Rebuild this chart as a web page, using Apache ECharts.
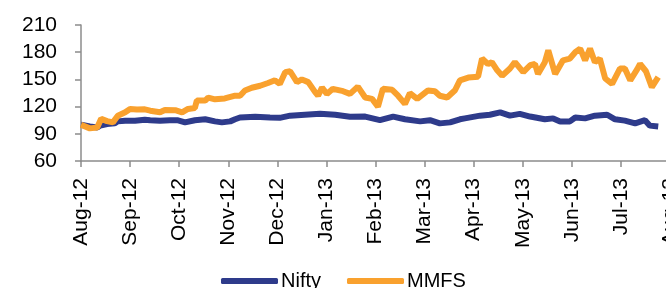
<!DOCTYPE html>
<html>
<head>
<meta charset="utf-8">
<script src="https://cdn.jsdelivr.net/npm/echarts@6/dist/echarts.min.js"></script>
<style>
  html, body { margin: 0; padding: 0; background: #fff; }
  #chart { width: 666px; height: 288px; }
</style>
</head>
<body>
<div id="chart"></div>
<script>
// month labels, one per tick (0 = Aug-12)
const monthLabels = ['Aug-12', 'Sep-12', 'Oct-12', 'Nov-12', 'Dec-12', 'Jan-13', 'Feb-13',
  'Mar-13', 'Apr-13', 'May-13', 'Jun-13', 'Jul-13', 'Aug-13']

// position in months since Aug-12, and indexed value
const niftyT = [0, 0.18, 0.33, 0.39, 0.53, 0.69, 0.75, 0.90, 1.10, 1.30, 1.41, 1.61, 1.81, 1.96,
  2.12, 2.32, 2.53, 2.73, 2.87, 3.04, 3.14, 3.24, 3.55, 3.85, 4.05, 4.26, 4.56, 4.87, 5.18,
  5.48, 5.79, 6.09, 6.36, 6.60, 6.91, 7.11, 7.31, 7.52, 7.72, 7.82, 8.13, 8.33, 8.54, 8.74,
  8.94, 9.15, 9.45, 9.62, 9.76, 9.96, 10.07, 10.27, 10.47, 10.72, 10.88, 11.08, 11.29, 11.49,
  11.59, 11.76]
const niftyV = [100, 98, 97, 99, 100.8, 101.5, 103.7, 104.5, 104.5, 105.6, 105, 104.5, 105, 105,
  102.6, 105, 106, 103.7, 102.6, 103.7, 106, 108, 108.9, 108, 107.6, 110, 111, 112, 111,
  108.9, 109, 105, 109, 106, 103.7, 105, 101.5, 102.6, 106, 107, 110, 111, 113.7, 110,
  112, 109, 106, 107, 103.7, 103.7, 108, 107, 110, 111, 106, 104.5, 101.5, 105,
  99, 98]

const mmfsT = [0, 0.18, 0.33, 0.41, 0.53, 0.65, 0.75, 0.90, 1.00, 1.14, 1.30, 1.41, 1.61, 1.71,
  1.92, 2.06, 2.18, 2.32, 2.36, 2.53, 2.59, 2.73, 2.93, 3.14, 3.24, 3.34, 3.48, 3.65, 3.81,
  3.95, 4.05, 4.16, 4.26, 4.40, 4.50, 4.63, 4.77, 4.83, 4.91, 5.01, 5.13, 5.34, 5.48, 5.64,
  5.79, 5.93, 6.05, 6.15, 6.34, 6.46, 6.60, 6.70, 6.85, 7.07, 7.21, 7.31, 7.46, 7.62, 7.72,
  7.89, 8.09, 8.17, 8.29, 8.37, 8.48, 8.58, 8.74, 8.84, 9.01, 9.15, 9.25, 9.31, 9.45, 9.52,
  9.66, 9.82, 9.96, 10.07, 10.17, 10.27, 10.37, 10.47, 10.57, 10.68, 10.82, 10.98, 11.08,
  11.19, 11.33, 11.39, 11.51, 11.63, 11.76]
const mmfsV = [100, 96, 97, 106.6, 104, 102.6, 110, 113.7, 117.4, 116.7, 117, 115.5, 113.7, 116.3,
  116, 113.7, 117.4, 118.5, 126.7, 126.7, 130, 128, 129, 132, 132, 137.8, 140.8, 143, 146,
  149, 145, 158, 159, 147, 150, 147, 136, 132, 141, 134, 139.6, 137, 134, 142,
  130, 128.5, 120, 139.6, 138.5, 132, 123, 134.8, 128.5, 137.8, 137, 132, 130, 138, 149,
  152, 153, 173, 167, 169, 160, 154, 162, 169, 158, 165.6, 167, 156, 169, 182,
  156, 171, 173, 180, 184, 171, 184, 169, 173, 151, 145, 162, 162,
  149, 161, 167, 159, 141.5, 152.6]

const zip = (t, v) => t.map((x, i) => [x, v[i]])

const fontFamily = 'Liberation Sans, Arial, sans-serif'
const axisGray = '#8c8c8c'

let myChart = echarts.init(document.getElementById('chart'))

myChart.setOption({
  animation: false,
  textStyle: {fontFamily},
  grid: {left: 81, top: 25, right: -4, bottom: 127, containLabel: false, outerBoundsMode: 'none'},
  legend: {
    bottom: -8,
    left: 216,
    itemGap: 26,
    itemWidth: 57,
    itemHeight: 6,
    icon: 'roundRect',
    textStyle: {fontSize: 20, color: '#000', fontFamily, padding: [0, 0, 0, -2]},
    data: ['Nifty', 'MMFS']
  },
  xAxis: {
    type: 'value',
    min: 0,
    max: 12,
    interval: 1,
    splitLine: {show: false},
    axisLine: {show: true, onZero: false, lineStyle: {color: axisGray, width: 1.5}},
    axisTick: {show: true, length: 6, lineStyle: {color: axisGray, width: 1.5}},
    axisLabel: {
      rotate: 90,
      margin: 17,
      fontSize: 21,
      color: '#000',
      showMaxLabel: true,
      formatter: v => monthLabels[Math.round(v)] || ''
    }
  },
  yAxis: {
    type: 'value',
    min: 60,
    max: 210,
    interval: 30,
    splitLine: {show: false},
    axisLine: {show: true, lineStyle: {color: axisGray, width: 1.5}},
    axisTick: {show: true, length: 6, lineStyle: {color: axisGray, width: 1.5}},
    axisLabel: {margin: 24, fontSize: 21, color: '#000'}
  },
  series: [
    {
      name: 'Nifty',
      type: 'line',
      data: zip(niftyT, niftyV),
      showSymbol: false,
      color: '#2e3b8b',
      lineStyle: {width: 6, color: '#2e3b8b'}
    },
    {
      name: 'MMFS',
      type: 'line',
      data: zip(mmfsT, mmfsV),
      showSymbol: false,
      color: '#f9a12e',
      lineStyle: {width: 6, color: '#f9a12e'}
    }
  ]
})
</script>
</body>
</html>
